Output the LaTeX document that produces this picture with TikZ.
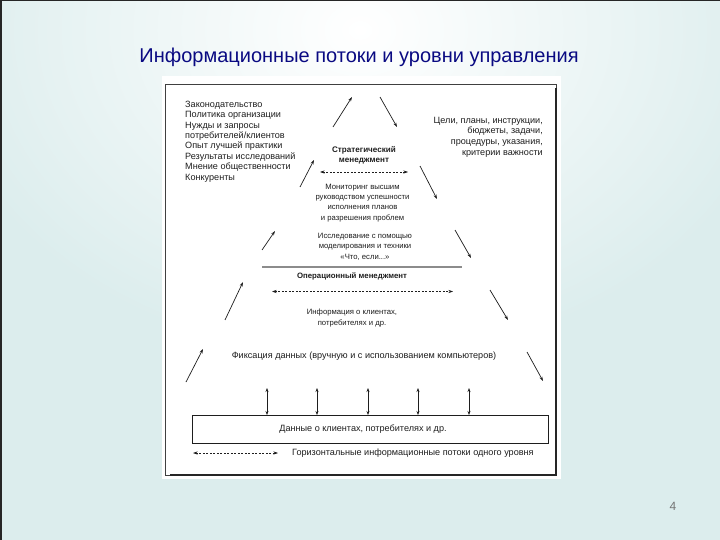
\documentclass[tikz,border=0pt]{standalone}
\usepackage{fontspec}
\setmainfont{Liberation Sans}
\usetikzlibrary{arrows.meta}
\definecolor{bgteal}{RGB}{220,237,237}
\definecolor{titleblue}{RGB}{10,10,130}
\definecolor{ink}{RGB}{30,30,30}
\tikzset{
  small/.style={font=\fontsize{9.1}{10.4}\selectfont, text=ink, inner sep=0pt},
  mid/.style={font=\fontsize{7.7}{10.2}\selectfont, text=ink, inner sep=0pt},
  smallbold/.style={font=\fontsize{7.8}{10.2}\selectfont\bfseries, text=ink, inner sep=0pt},
  flow/.style={-{Stealth[length=4.5pt,width=3pt]}, line width=0.7pt, draw=ink},
  dflow/.style={{Stealth[length=4.5pt,width=3pt]}-{Stealth[length=4.5pt,width=3pt]}, line width=0.6pt, draw=ink, dash pattern=on 2pt off 1.5pt},
  vflow/.style={{Stealth[length=4pt,width=3pt]}-{Stealth[length=4pt,width=3pt]}, line width=0.7pt, draw=ink},
}
\begin{document}
\begin{tikzpicture}[x=1pt,y=-1pt]
\useasboundingbox (0,0) rectangle (720,540);
% slide background
\fill[bgteal] (0,0) rectangle (720,540);
\shade[inner color=white, outer color=bgteal] (360,30) ellipse [x radius=430, y radius=330];
\draw[black!85, line width=1.5pt] (0,0.75) -- (720,0.75);
\draw[black!85, line width=1.5pt] (0.75,0) -- (0.75,540);
% title
\node[font=\fontsize{20}{22}\selectfont, text=titleblue, inner sep=0pt] (title) at (359,57) {Информационные потоки и уровни управления};
% image area
\fill[white] (162,76) rectangle (561,479);
\draw[black!75, line width=0.8pt] (165,84) rectangle (556,475);
\draw[black!85, line width=1.6pt] (556,88) -- (556,475) -- (170,475);
% left text block
\node[small, align=left, anchor=west] (inputs) at (185,141.5) {Законодательство\\Политика организации\\Нужды и запросы\\потребителей/клиентов\\Опыт лучшей практики\\Результаты исследований\\Мнение общественности\\Конкуренты};
% right text block
\node[small, align=right, anchor=east, font=\fontsize{9.1}{10.7}\selectfont] (outputs) at (543,137) {Цели, планы, инструкции,\\бюджеты, задачи,\\процедуры, указания,\\критерии важности};
% strategic
\node[smallbold, align=center, font=\fontsize{8.1}{10.2}\selectfont\bfseries] (strat) at (364,155) {Стратегический\\менеджмент};
\coordinate (s1) at (320,172);
\coordinate (s2) at (408,172);
\draw[dflow] (s1) -- (s2);
\node[mid, align=center] (monitor) at (362.5,203) {Мониторинг высшим\\руководством успешности\\исполнения планов\\и разрешения проблем};
\node[mid, align=center, font=\fontsize{7.7}{10.4}\selectfont] (research) at (365,246.5) {Исследование с помощью\\моделирования и техники\\«Что, если...»};
\coordinate (g1) at (262,267);
\coordinate (g2) at (462,267);
\draw[black!45, line width=1.6pt] (g1) -- (g2);
% operational
\node[smallbold] (oper) at (352,276) {Операционный менеджмент};
\coordinate (o1) at (272,291.5);
\coordinate (o2) at (453,291.5);
\draw[dflow] (o1) -- (o2);
\node[mid, align=center] (info) at (352,318) {Информация о клиентах,\\потребителях и др.};
\node[small] (fix) at (364,356) {Фиксация данных (вручную и с использованием компьютеров)};
% left diagonal arrows (upwards)
\coordinate (la1) at (333,127); \coordinate (lb1) at (352,97);
\coordinate (la2) at (300,187); \coordinate (lb2) at (314,160);
\coordinate (la3) at (262,250); \coordinate (lb3) at (275,231);
\coordinate (la4) at (225,320); \coordinate (lb4) at (243,282);
\coordinate (la5) at (186,382); \coordinate (lb5) at (203,349);
\foreach \i in {1,...,5} \draw[flow] (la\i) -- (lb\i);
% right diagonal arrows (downwards)
\coordinate (ra1) at (380,97); \coordinate (rb1) at (397,127);
\coordinate (ra2) at (420,166); \coordinate (rb2) at (437,199);
\coordinate (ra3) at (455,230); \coordinate (rb3) at (471,258);
\coordinate (ra4) at (490,290); \coordinate (rb4) at (508,320);
\coordinate (ra5) at (527,352); \coordinate (rb5) at (543,381);
\foreach \i in {1,...,5} \draw[flow] (ra\i) -- (rb\i);
% data box
\node[draw=ink, line width=0.8pt, minimum width=356pt, minimum height=28pt, inner sep=0pt, anchor=north west] (data) at (192,415) {};
\node[small] (datatext) at (363,429) {Данные о клиентах, потребителях и др.};
% vertical arrows
\foreach \x [count=\i] in {267,317,368,418,469} {
  \coordinate (vt\i) at (\x,388);
  \draw[vflow] (vt\i) -- (data.north -| vt\i);
}
% horizontal legend
\coordinate (h1) at (193,453);
\coordinate (h2) at (278,453);
\draw[dflow, line width=0.5pt] (h1) -- (h2);
\node[small, anchor=west] (legend) at (292,453) {Горизонтальные информационные потоки одного уровня};
% page number
\node[font=\fontsize{12}{14}\selectfont, text=black!55, inner sep=0pt] (page) at (673,506) {4};
\end{tikzpicture}
\end{document}
